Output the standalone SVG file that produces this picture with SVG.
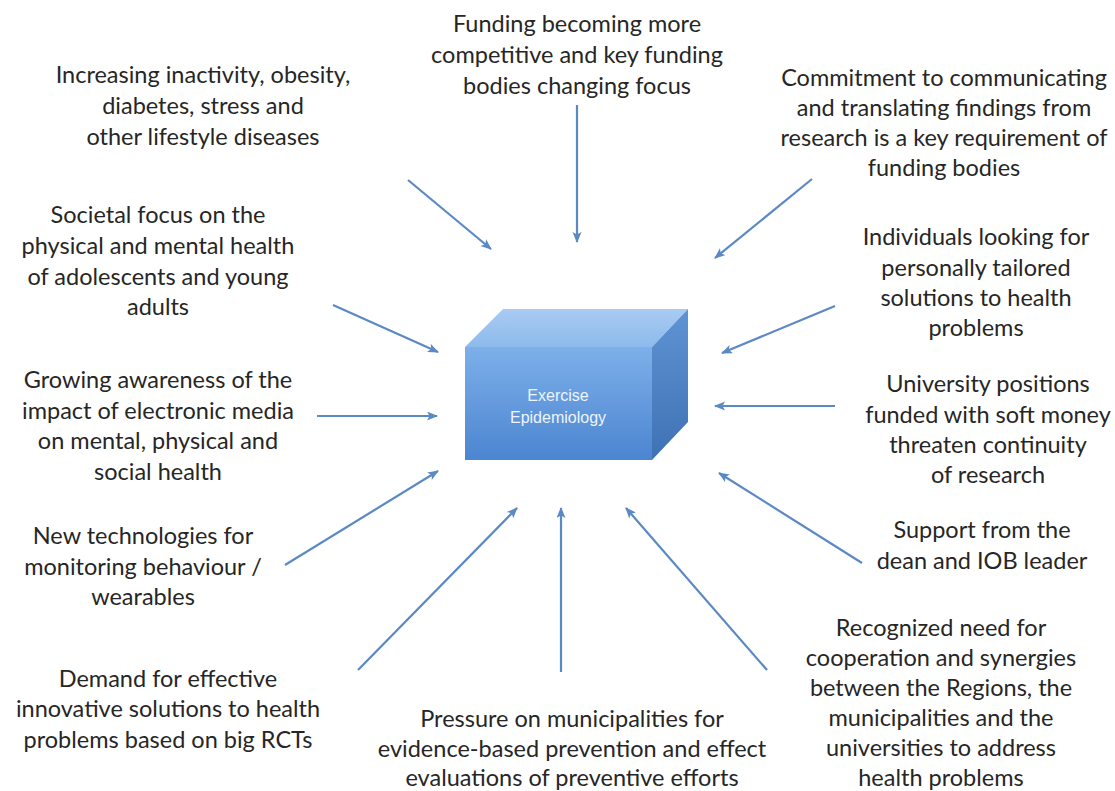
<svg xmlns="http://www.w3.org/2000/svg" width="1115" height="791" viewBox="0 0 1115 791">
  <style>
    .lbl { font-family: Lato, "Liberation Sans", sans-serif; font-size: 23.5px; fill: #262626; text-anchor: middle; }
    .box-text { font-family: "Liberation Sans", Arial, sans-serif; font-size: 16px; fill: #eef4fc; text-anchor: middle; }
    .arrow { stroke: #5b89c4; stroke-width: 2.2; fill: none; marker-end: url(#head); }
  </style>
  <defs>
    <marker id="head" markerUnits="userSpaceOnUse" markerWidth="12" markerHeight="10" refX="10" refY="4.5" orient="auto">
      <path d="M0,0 L11,4.5 L0,9 L2.5,4.5 z" fill="#5b89c4"/>
    </marker>
    <linearGradient id="front" x1="0" y1="0" x2="0" y2="1">
      <stop offset="0" stop-color="#7db0ea"/>
      <stop offset="1" stop-color="#4c85d0"/>
    </linearGradient>
    <linearGradient id="top" x1="0" y1="0" x2="0" y2="1">
      <stop offset="0" stop-color="#a9cbf2"/>
      <stop offset="1" stop-color="#8dbaec"/>
    </linearGradient>
    <linearGradient id="side" x1="0" y1="0" x2="0" y2="1">
      <stop offset="0" stop-color="#5e93d4"/>
      <stop offset="1" stop-color="#3f72b4"/>
    </linearGradient>
  </defs>
  <rect width="1115" height="791" fill="#ffffff"/>

  <!-- central cube -->
  <g id="node-center">
    <polygon points="465,347 503,309 688,309 652,347" fill="url(#top)"/>
    <polygon points="652,347 688,309 688,422 652,460" fill="url(#side)"/>
    <rect x="465" y="347" width="187" height="113" fill="url(#front)"/>
    <text class="box-text" x="558" y="401">Exercise</text>
    <text class="box-text" x="558" y="423">Epidemiology</text>
  </g>

  <!-- connectors -->
  <g id="connectors">
    <line class="arrow" x1="408" y1="180" x2="491" y2="249"/>
    <line class="arrow" x1="577" y1="105" x2="577" y2="242"/>
    <line class="arrow" x1="812" y1="179" x2="715" y2="258"/>
    <line class="arrow" x1="333" y1="305" x2="438" y2="352"/>
    <line class="arrow" x1="317" y1="416" x2="437" y2="416"/>
    <line class="arrow" x1="285" y1="565" x2="438" y2="471"/>
    <line class="arrow" x1="358" y1="670" x2="517" y2="508"/>
    <line class="arrow" x1="561" y1="672" x2="561" y2="508"/>
    <line class="arrow" x1="767" y1="670" x2="626" y2="508"/>
    <line class="arrow" x1="835" y1="306" x2="722" y2="353"/>
    <line class="arrow" x1="835" y1="406" x2="715" y2="406"/>
    <line class="arrow" x1="862" y1="563" x2="719" y2="473"/>
  </g>

  <!-- labels -->
  <g id="node-lifestyle">
    <text class="lbl" x="203" y="83">Increasing inactivity, obesity,</text>
    <text class="lbl" x="203" y="114">diabetes, stress and</text>
    <text class="lbl" x="203" y="145">other lifestyle diseases</text>
  </g>
  <g id="node-funding">
    <text class="lbl" x="577" y="32">Funding becoming more</text>
    <text class="lbl" x="577" y="63">competitive and key funding</text>
    <text class="lbl" x="577" y="94">bodies changing focus</text>
  </g>
  <g id="node-commitment">
    <text class="lbl" x="944" y="86">Commitment to communicating</text>
    <text class="lbl" x="944" y="116">and translating findings from</text>
    <text class="lbl" x="944" y="146">research is a key requirement of</text>
    <text class="lbl" x="944" y="176">funding bodies</text>
  </g>
  <g id="node-societal">
    <text class="lbl" x="158" y="223">Societal focus on the</text>
    <text class="lbl" x="158" y="254">physical and mental health</text>
    <text class="lbl" x="158" y="285">of adolescents and young</text>
    <text class="lbl" x="158" y="315">adults</text>
  </g>
  <g id="node-media">
    <text class="lbl" x="158" y="388">Growing awareness of the</text>
    <text class="lbl" x="158" y="419">impact of electronic media</text>
    <text class="lbl" x="158" y="449">on mental, physical and</text>
    <text class="lbl" x="158" y="480">social health</text>
  </g>
  <g id="node-technologies">
    <text class="lbl" x="143" y="544">New technologies for</text>
    <text class="lbl" x="143" y="575">monitoring behaviour /</text>
    <text class="lbl" x="143" y="605">wearables</text>
  </g>
  <g id="node-demand">
    <text class="lbl" x="168" y="687">Demand for effective</text>
    <text class="lbl" x="168" y="717">innovative solutions to health</text>
    <text class="lbl" x="168" y="748">problems based on big RCTs</text>
  </g>
  <g id="node-pressure">
    <text class="lbl" x="572" y="727">Pressure on municipalities for</text>
    <text class="lbl" x="572" y="757">evidence-based prevention and effect</text>
    <text class="lbl" x="572" y="786">evaluations of preventive efforts</text>
  </g>
  <g id="node-cooperation">
    <text class="lbl" x="941" y="636">Recognized need for</text>
    <text class="lbl" x="941" y="666">cooperation and synergies</text>
    <text class="lbl" x="941" y="696">between the Regions, the</text>
    <text class="lbl" x="941" y="726">municipalities and the</text>
    <text class="lbl" x="941" y="756">universities to address</text>
    <text class="lbl" x="941" y="786">health problems</text>
  </g>
  <g id="node-individuals">
    <text class="lbl" x="976" y="245">Individuals looking for</text>
    <text class="lbl" x="976" y="276">personally tailored</text>
    <text class="lbl" x="976" y="306">solutions to health</text>
    <text class="lbl" x="976" y="336">problems</text>
  </g>
  <g id="node-university">
    <text class="lbl" x="988" y="392">University positions</text>
    <text class="lbl" x="988" y="423">funded with soft money</text>
    <text class="lbl" x="988" y="453">threaten continuity</text>
    <text class="lbl" x="988" y="483">of research</text>
  </g>
  <g id="node-support">
    <text class="lbl" x="982" y="538">Support from the</text>
    <text class="lbl" x="982" y="569">dean and IOB leader</text>
  </g>
</svg>
